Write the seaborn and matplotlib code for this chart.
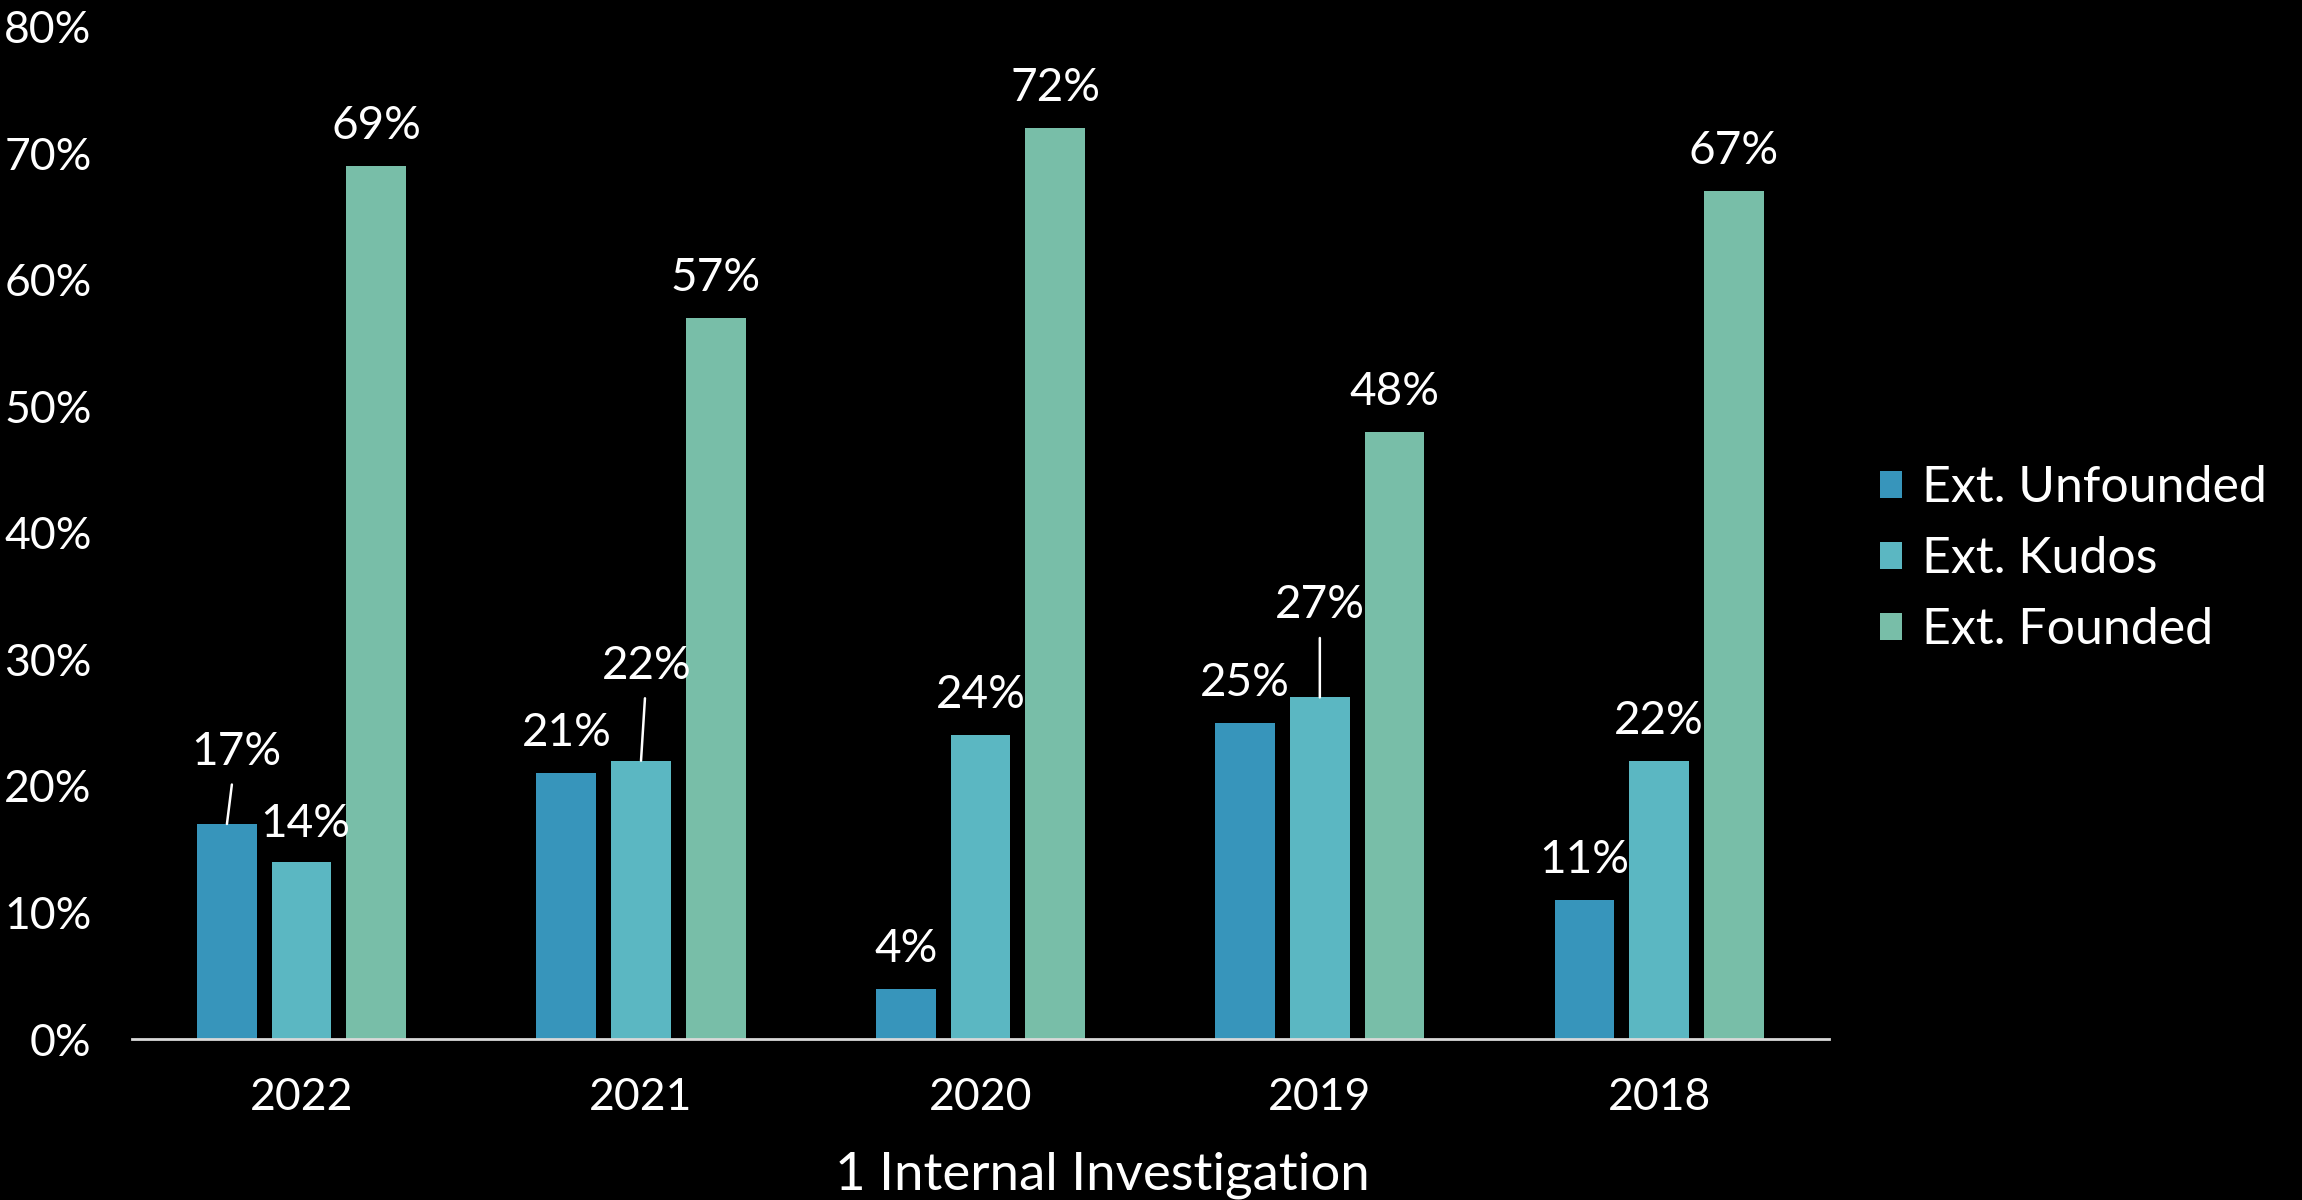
import matplotlib
matplotlib.use("Agg")
import matplotlib.pyplot as plt
import seaborn as sns
import pandas as pd

# Data
years = ["2022", "2021", "2020", "2019", "2018"]
series = ["Ext. Unfounded", "Ext. Kudos", "Ext. Founded"]
unfounded = [17, 21, 4, 25, 11]
kudos = [14, 22, 24, 27, 22]
founded = [69, 57, 72, 48, 67]
colors = ["#3795BB", "#5BB7C2", "#78BEA8"]
y_ticks = [0, 10, 20, 30, 40, 50, 60, 70, 80]
x_title = "1 Internal Investigation"

rows = []
for name, vals in zip(series, [unfounded, kudos, founded]):
    for yr, v in zip(years, vals):
        rows.append({"year": yr, "series": name, "value": v})
df = pd.DataFrame(rows)

sns.set_theme(style="dark")
plt.rcParams["font.family"] = ["Lato", "DejaVu Sans"]
plt.rcParams["text.color"] = "white"

fig = plt.figure(figsize=(23.02, 12.0), dpi=100, facecolor="black")
ax = fig.add_axes([0.0573, 0.134, 0.7372, 0.844])
ax.set_facecolor("black")

sns.barplot(data=df, x="year", y="value", hue="series", order=years,
            hue_order=series, palette=colors, width=0.66, gap=0.2,
            saturation=1, ax=ax, errorbar=None, linewidth=0,
            edgecolor="none")

ax.set_ylim(0, 80)
ax.set_xlim(-0.5, len(years) - 0.5)
ax.set_yticks(y_ticks)
ax.set_yticklabels([f"{t}%" for t in y_ticks])
ax.tick_params(axis="y", length=0, pad=29, labelsize=32, labelcolor="white")
ax.tick_params(axis="x", which="major", length=0, pad=27, labelsize=32,
               labelcolor="white")
ax.set_xticks([i - 0.5 for i in range(len(years) + 1)], minor=True)
ax.tick_params(axis="x", which="minor", length=11, width=1.5,
               color="#d9d9d9", direction="out")
ax.grid(False)
for side in ["top", "right", "left"]:
    ax.spines[side].set_visible(False)
ax.spines["bottom"].set_color("#d9d9d9")
ax.spines["bottom"].set_linewidth(2)
ax.set_ylabel("")
ax.set_xlabel(x_title, fontsize=38, color="white")
ax.xaxis.set_label_coords(0.572, -0.134)
ax.xaxis.label.set_va("center")

# Value labels; a few are lifted clear of neighbours with a leader line
lifted = {(0, 0): (9, 72), (0, 1): (4, 38), (1, 1): (6, 95), (3, 1): (0, 92)}
for si, cont in enumerate(ax.containers):
    for xi, bar in enumerate(cont):
        h = bar.get_height()
        cx = bar.get_x() + bar.get_width() / 2
        dx, dy = lifted.get((xi, si), (0, 40))
        arrow = None
        if dy > 60:
            arrow = dict(arrowstyle="-", color="white", lw=1.8,
                         shrinkA=6, shrinkB=0)
        ax.annotate(f"{h:.0f}%", xy=(cx, h), xytext=(dx, dy),
                    textcoords="offset pixels", ha="center", va="center",
                    fontsize=33, color="white", arrowprops=arrow)

handles, labels = ax.get_legend_handles_labels()
ax.get_legend().remove()
leg = fig.legend(handles, labels, loc="center left",
                 bbox_to_anchor=(0.797, 0.534), frameon=False,
                 fontsize=36, handlelength=0.45, handleheight=0.45,
                 handletextpad=0.4, labelspacing=0.5)
for t in leg.get_texts():
    t.set_color("white")

fig.savefig("out.png", dpi=100, facecolor="black")
